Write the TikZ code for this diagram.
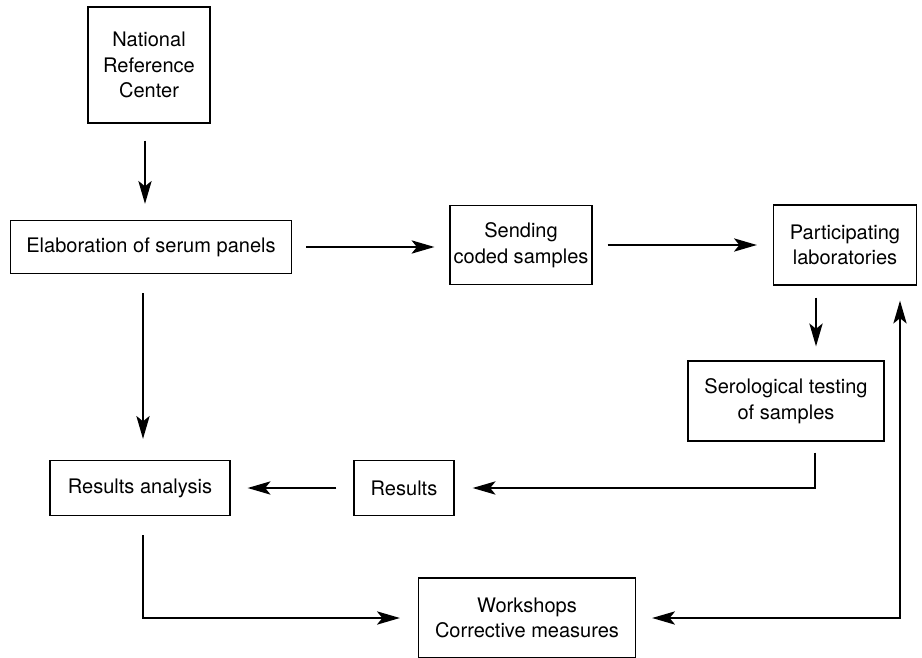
\documentclass[tikz,border=0pt]{standalone}
\usepackage{fontspec}
\setmainfont{TeX Gyre Heros}
\usetikzlibrary{arrows.meta, positioning, calc}

\begin{document}
\begin{tikzpicture}[
    x=0.02cm, y=-0.02cm,
    box/.style={draw, line width=0.7pt, inner sep=2pt, align=center, font=\fontsize{11.4}{14.6}\selectfont},
    flow/.style={line width=1.4pt, -{Stealth[length=13pt, width=7.5pt, inset=3pt]}},
    both/.style={line width=1.4pt, {Stealth[length=13pt, width=7.5pt, inset=3pt]}-{Stealth[length=13pt, width=7.5pt, inset=3pt]}},
    ]
    \useasboundingbox (0,0) rectangle (922,658);

    % top row
    \node[box, minimum width=2.44cm, minimum height=2.32cm] (nrc) at (149,65) {National\\Reference\\Center};
    \node[box, minimum width=5.62cm, minimum height=1.06cm] (elab) at (151,247) {Elaboration of serum panels};
    \node[box, minimum width=2.76cm, minimum height=1.58cm] (send) at (521,245) {Sending\\coded samples};
    \node[box, minimum width=2.86cm, minimum height=1.6cm] (part) at (845,245) {Participating\\laboratories};

    % testing and results
    \node[box, minimum width=3.92cm, minimum height=1.6cm] (sero) at (786,401) {Serological testing\\of samples};
    \node[box, minimum width=3.6cm, minimum height=1.1cm] (resan) at (140,488) {Results analysis};
    \node[box, minimum width=2.0cm, minimum height=1.1cm] (res) at (404,488) {Results};

    % bottom
    \node[box, minimum width=4.34cm, minimum height=1.6cm] (work) at (527,618) {Workshops\\Corrective measures};

    % arrows along the top row
    \draw[flow, shorten <=0.34cm, shorten >=0.32cm] ([xshift=-0.08cm]nrc.south) -- ([xshift=-0.08cm]nrc.south |- elab.north);
    \draw[flow, shorten <=0.28cm, shorten >=0.3cm] (elab.east) -- (elab.east -| send.west);
    \draw[flow, shorten <=0.3cm, shorten >=0.32cm] (send.east) -- (part.west);

    % down to testing, back to results
    \draw[flow, shorten <=0.24cm, shorten >=0.28cm] ([xshift=-0.58cm]part.south) -- ([xshift=-0.58cm]part.south |- sero.north);
    \draw[flow, shorten <=0.22cm, shorten >=0.36cm] ([xshift=0.58cm]sero.south) |- (res.east);
    \draw[flow, shorten <=0.34cm, shorten >=0.34cm] (res.west) -- (resan.east);
    \draw[flow, shorten <=0.38cm, shorten >=0.42cm] ([xshift=-0.16cm]elab.south) -- ([xshift=-0.16cm]elab.south |- resan.north);

    % feedback to workshops
    \draw[flow, shorten <=0.38cm, shorten >=0.36cm] ([xshift=0.06cm]resan.south) |- (work.west);
    \draw[both, shorten <=0.32cm, shorten >=0.3cm] (work.east) -| ([xshift=1.1cm]part.south);
\end{tikzpicture}
\end{document}
